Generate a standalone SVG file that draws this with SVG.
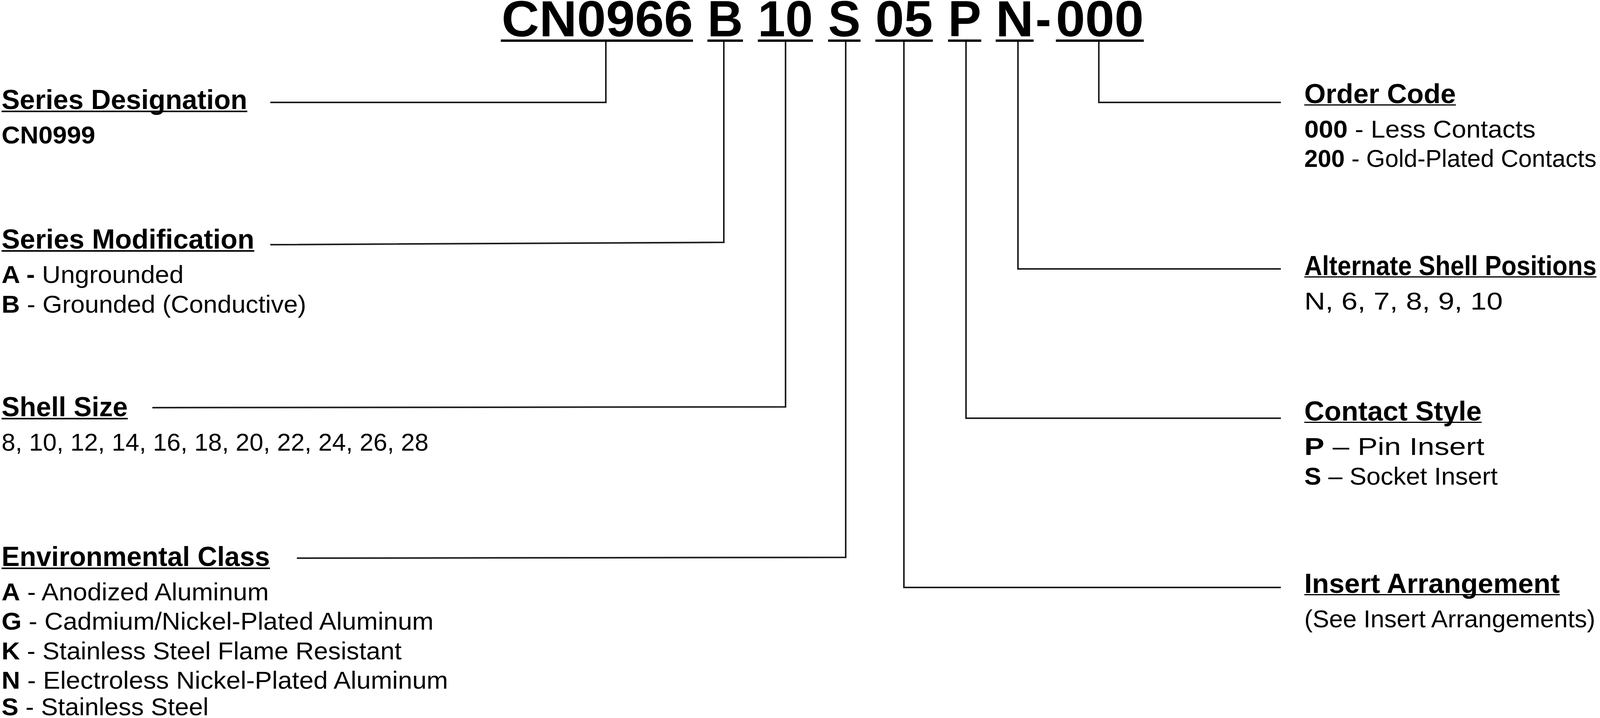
<svg xmlns="http://www.w3.org/2000/svg" width="4165" height="1837" viewBox="0 0 4165 1837">
<style>
text{font-family:"Liberation Sans",Arial,Helvetica,sans-serif;fill:#000}
.t{font-size:130px;font-weight:bold}
.h{font-size:70px;font-weight:bold}
.b{font-size:63px}
.k{font-weight:bold}
.ul{fill:#000}
.c{fill:none;stroke:#1d1d1d;stroke-width:4}
</style>
<rect width="4165" height="1837" fill="#fff"/>
<g id="title">
<text class="t" x="1284" y="93" textLength="490" lengthAdjust="spacingAndGlyphs">CN0966</text>
<text class="t" x="1811" y="93" textLength="91" lengthAdjust="spacingAndGlyphs">B</text>
<text class="t" x="1940" y="93" textLength="141" lengthAdjust="spacingAndGlyphs">10</text>
<text class="t" x="2120" y="93" textLength="83" lengthAdjust="spacingAndGlyphs">S</text>
<text class="t" x="2241" y="93" textLength="147" lengthAdjust="spacingAndGlyphs">05</text>
<text class="t" x="2427" y="93" textLength="85" lengthAdjust="spacingAndGlyphs">P</text>
<text class="t" x="2549" y="93" textLength="97" lengthAdjust="spacingAndGlyphs">N</text>
<text class="t" x="2651" y="93" textLength="40" lengthAdjust="spacingAndGlyphs">-</text>
<text class="t" x="2703" y="93" textLength="225" lengthAdjust="spacingAndGlyphs">000</text>
<rect class="ul" x="1282" y="101" width="492" height="6"/>
<rect class="ul" x="1811" y="101" width="91" height="6"/>
<rect class="ul" x="1940" y="101" width="141" height="6"/>
<rect class="ul" x="2120" y="101" width="83" height="6"/>
<rect class="ul" x="2241" y="101" width="147" height="6"/>
<rect class="ul" x="2427" y="101" width="85" height="6"/>
<rect class="ul" x="2549" y="101" width="97" height="6"/>
<rect class="ul" x="2703" y="101" width="225" height="6"/>
</g>
<g id="connectors">
<path class="c" d="M1551,107 V262 H692"/>
<path class="c" d="M1853,107 V620 L692,626"/>
<path class="c" d="M2011,107 V1041 L390,1043"/>
<path class="c" d="M2165,107 V1426 L760,1428"/>
<path class="c" d="M2314,107 V1503 H3279"/>
<path class="c" d="M2473,107 V1070 H3279"/>
<path class="c" d="M2606,107 V688 H3279"/>
<path class="c" d="M2813,107 V262 H3279"/>
</g>
<g id="series-designation">
<text class="h" x="4" y="279" textLength="629" lengthAdjust="spacingAndGlyphs">Series Designation</text>
<rect class="ul" x="4" y="283" width="629" height="4"/>
<text class="b k" x="4" y="367" textLength="240" lengthAdjust="spacingAndGlyphs">CN0999</text>
</g>
<g id="series-modification">
<text class="h" x="4" y="636" textLength="647" lengthAdjust="spacingAndGlyphs">Series Modification</text>
<rect class="ul" x="4" y="640" width="647" height="4"/>
<text class="b" x="4" y="724" textLength="466" lengthAdjust="spacingAndGlyphs"><tspan class="k">A -</tspan> Ungrounded</text>
<text class="b" x="4" y="800" textLength="780" lengthAdjust="spacingAndGlyphs"><tspan class="k">B</tspan> - Grounded (Conductive)</text>
</g>
<g id="shell-size">
<text class="h" x="4" y="1065" textLength="323" lengthAdjust="spacingAndGlyphs">Shell Size</text>
<rect class="ul" x="4" y="1069" width="323" height="4"/>
<text class="b" x="4" y="1153" textLength="1093" lengthAdjust="spacingAndGlyphs">8, 10, 12, 14, 16, 18, 20, 22, 24, 26, 28</text>
</g>
<g id="environmental-class">
<text class="h" x="4" y="1448" textLength="687" lengthAdjust="spacingAndGlyphs">Environmental Class</text>
<rect class="ul" x="4" y="1452" width="687" height="4"/>
<text class="b" x="4" y="1536" textLength="684" lengthAdjust="spacingAndGlyphs"><tspan class="k">A</tspan> - Anodized Aluminum</text>
<text class="b" x="4" y="1611" textLength="1106" lengthAdjust="spacingAndGlyphs"><tspan class="k">G</tspan> - Cadmium/Nickel-Plated Aluminum</text>
<text class="b" x="4" y="1687" textLength="1024" lengthAdjust="spacingAndGlyphs"><tspan class="k">K</tspan> - Stainless Steel Flame Resistant</text>
<text class="b" x="4" y="1762" textLength="1143" lengthAdjust="spacingAndGlyphs"><tspan class="k">N</tspan> - Electroless Nickel-Plated Aluminum</text>
<text class="b" x="4" y="1830" textLength="530" lengthAdjust="spacingAndGlyphs"><tspan class="k">S</tspan> - Stainless Steel</text>
</g>
<g id="order-code">
<text class="h" x="3339" y="264" textLength="388" lengthAdjust="spacingAndGlyphs">Order Code</text>
<rect class="ul" x="3339" y="267" width="388" height="3"/>
<text class="b" x="3339" y="352" textLength="592" lengthAdjust="spacingAndGlyphs"><tspan class="k">000</tspan> - Less Contacts</text>
<text class="b" x="3339" y="427" textLength="748" lengthAdjust="spacingAndGlyphs"><tspan class="k">200</tspan> - Gold-Plated Contacts</text>
</g>
<g id="alternate-shell-positions">
<text class="h" x="3339" y="704" textLength="748" lengthAdjust="spacingAndGlyphs">Alternate Shell Positions</text>
<rect class="ul" x="3339" y="707" width="748" height="3"/>
<text class="b" x="3339" y="792" textLength="508" lengthAdjust="spacingAndGlyphs">N, 6, 7, 8, 9, 10</text>
</g>
<g id="contact-style">
<text class="h" x="3339" y="1076" textLength="454" lengthAdjust="spacingAndGlyphs">Contact Style</text>
<rect class="ul" x="3339" y="1079" width="454" height="3"/>
<text class="b" x="3339" y="1164" textLength="461" lengthAdjust="spacingAndGlyphs"><tspan class="k">P</tspan> – Pin Insert</text>
<text class="b" x="3339" y="1240" textLength="495" lengthAdjust="spacingAndGlyphs"><tspan class="k">S</tspan> – Socket Insert</text>
</g>
<g id="insert-arrangement">
<text class="h" x="3339" y="1517" textLength="654" lengthAdjust="spacingAndGlyphs">Insert Arrangement</text>
<rect class="ul" x="3339" y="1520" width="654" height="3"/>
<text class="b" x="3339" y="1605" textLength="745" lengthAdjust="spacingAndGlyphs">(See Insert Arrangements)</text>
</g>
</svg>
